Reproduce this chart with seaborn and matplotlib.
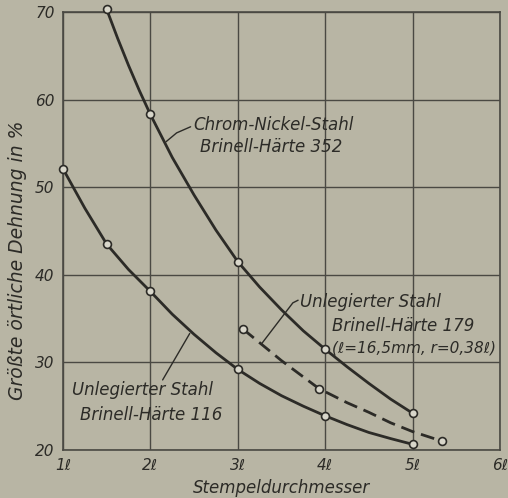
import matplotlib
matplotlib.use("Agg")
import matplotlib.pyplot as plt
import seaborn as sns

# ---- data ----
# Chrom-Nickel-Stahl, Brinell-Härte 352 (measured points)
cn_x = [1.5, 2, 3, 4, 5]
cn_y = [70.3, 58.3, 41.5, 31.5, 24.2]
# drawn curve
cn_curve_x = [1.5, 1.625, 1.75, 1.875, 2, 2.25, 2.5, 2.75, 3, 3.25, 3.5, 3.75, 4, 4.25, 4.5, 4.75, 5]
cn_curve_y = [70.3, 67.0, 63.9, 61.0, 58.3, 53.4, 49.1, 45.1, 41.5, 38.6, 36.0, 33.6, 31.5, 29.5, 27.6, 25.8, 24.2]

# Unlegierter Stahl, Brinell-Härte 116
u116_x = [1, 1.5, 2, 3, 4, 5]
u116_y = [52.1, 43.5, 38.1, 29.2, 23.9, 20.65]
u116_curve_x = [1, 1.25, 1.5, 1.75, 2, 2.25, 2.5, 2.75, 3, 3.25, 3.5, 3.75, 4, 4.25, 4.5, 4.75, 5]
u116_curve_y = [52.1, 47.6, 43.5, 40.6, 38.1, 35.5, 33.2, 31.1, 29.2, 27.6, 26.2, 25.0, 23.9, 22.9, 22.0, 21.3, 20.65]

# Unlegierter Stahl, Brinell-Härte 179 (dashed)
u179_x = [3.06, 3.93, 5.34]
u179_y = [33.8, 27.0, 21.0]
u179_curve_x = [3.06, 3.5, 3.93, 4.25, 4.5, 4.75, 5.0, 5.34]
u179_curve_y = [33.8, 30.2, 27.0, 25.4, 24.3, 23.1, 22.1, 21.0]

x_ticks = [1, 2, 3, 4, 5, 6]
x_ticklabels = ["1ℓ", "2ℓ", "3ℓ", "4ℓ", "5ℓ", "6ℓ"]
y_ticks = [20, 30, 40, 50, 60, 70]
y_ticklabels = ["20", "30", "40", "50", "60", "70"]

BG = "#b8b5a4"
INK = "#2c2b27"
GRID = "#4a4943"

sns.set_style("white", rc={"axes.facecolor": BG, "figure.facecolor": BG,
                           "axes.edgecolor": GRID})
plt.rcParams["font.family"] = ["DejaVu Sans"]

fig = plt.figure(figsize=(5.08, 4.98), dpi=100)
ax = fig.add_axes([63 / 508, 1 - 450 / 498, (500 - 63) / 508, (450 - 12) / 498])

line_kw = dict(color=INK, linewidth=2.0, clip_on=False, sort=False, estimator=None)
sns.lineplot(x=cn_curve_x, y=cn_curve_y, ax=ax, **line_kw)
sns.lineplot(x=u116_curve_x, y=u116_curve_y, ax=ax, **line_kw)
sns.lineplot(x=u179_curve_x, y=u179_curve_y, ax=ax, dashes=False,
             linestyle=(0, (5, 2.5)), **line_kw)

mk_kw = dict(marker="o", s=32, facecolor="#d8d6ca", edgecolor=INK,
             linewidth=1.2, zorder=5, clip_on=False)
for xs, ys in [(cn_x, cn_y), (u116_x, u116_y), (u179_x, u179_y)]:
    sns.scatterplot(x=xs, y=ys, ax=ax, **mk_kw)

ax.set_xlim(1, 6)
ax.set_ylim(20, 70)
ax.set_xticks(x_ticks)
ax.set_xticklabels(x_ticklabels)
ax.set_yticks(y_ticks)
ax.set_yticklabels(y_ticklabels)
ax.grid(True, color=GRID, linewidth=1.0)
ax.set_axisbelow(True)
for s in ax.spines.values():
    s.set_visible(True)
    s.set_color(GRID)
    s.set_linewidth(1.2)
ax.tick_params(length=0, pad=6, labelsize=11, colors=INK)
for lab in ax.get_xticklabels() + ax.get_yticklabels():
    lab.set_fontstyle("italic")

ax.set_xlabel("Stempeldurchmesser", fontsize=12, style="italic", color=INK, labelpad=4)
ax.set_ylabel("Größte örtliche Dehnung in %", fontsize=13.5, style="italic", color=INK)
ax.yaxis.set_label_coords(-0.083, 0.434)

tk = dict(fontsize=12, style="italic", color=INK)
# Chrom-Nickel label
ax.text(2.49, 57.05, "Chrom-Nickel-Stahl", ha="left", va="center", **tk)
ax.text(2.57, 54.55, "Brinell-Härte 352", ha="left", va="center", **tk)
ax.plot([2.18, 2.3, 2.46], [55.2, 56.2, 56.9], color=INK, lw=1.0)

# Unlegierter 116 label
ax.text(1.1, 26.8, "Unlegierter Stahl", ha="left", va="center", **tk)
ax.text(1.2, 24.0, "Brinell-Härte 116", ha="left", va="center", **tk)
ax.plot([2.14, 2.45], [28.0, 33.3], color=INK, lw=1.0)

# Unlegierter 179 label
ax.text(3.71, 36.9, "Unlegierter Stahl", ha="left", va="center", **tk)
ax.text(4.08, 34.2, "Brinell-Härte 179", ha="left", va="center", **tk)
ax.text(4.08, 31.7, "(ℓ=16,5mm, r=0,38ℓ)", ha="left", va="center",
        fontsize=11, style="italic", color=INK)
ax.plot([3.27, 3.63, 3.69], [32.1, 36.8, 37.1], color=INK, lw=1.0)

fig.savefig("out.png", dpi=100, facecolor=BG)
